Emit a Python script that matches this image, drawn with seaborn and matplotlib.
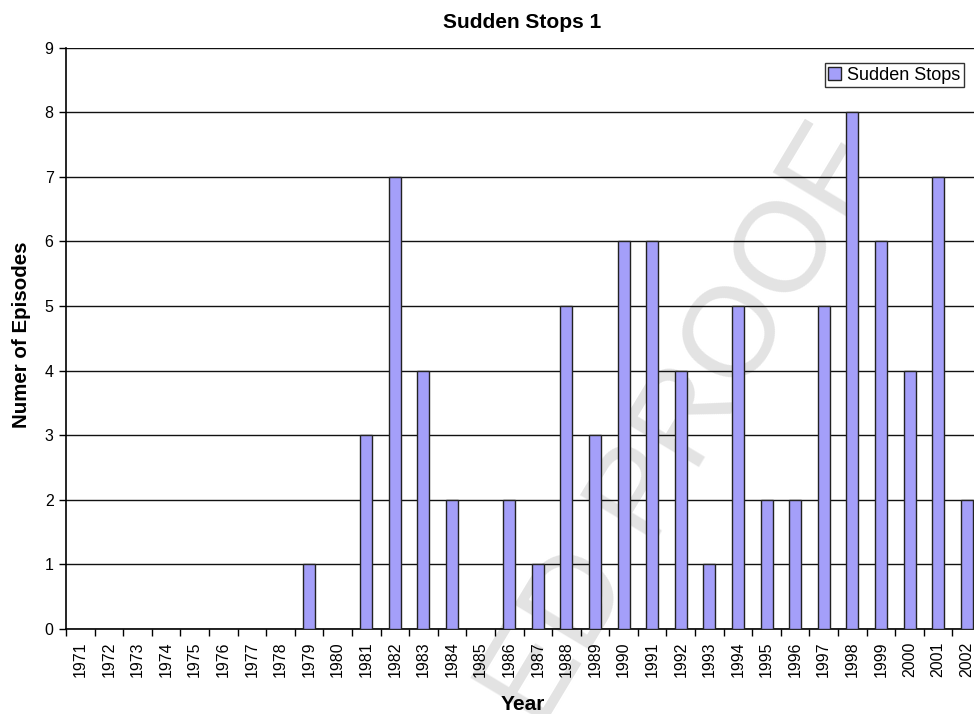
import matplotlib
matplotlib.use("Agg")
import matplotlib.pyplot as plt
import seaborn as sns
import pandas as pd
import numpy as np

years = [str(y) for y in range(1971, 2003)]
episodes = [0, 0, 0, 0, 0, 0, 0, 0, 1, 0, 3, 7, 4, 2, 0, 2, 1, 5, 3, 6, 6, 4, 1, 5,
            2, 2, 5, 8, 6, 4, 7, 2]
series_name = "Sudden Stops"
title = "Sudden Stops 1"
y_label = "Numer of Episodes"
x_label = "Year"
watermark = "ED PROOF"

sns.set_style("white")
plt.rcParams["font.family"] = ["Liberation Sans", "DejaVu Sans"]
plt.rcParams.update({"text.color": "black", "axes.labelcolor": "black",
                     "xtick.color": "black", "ytick.color": "black"})

df = pd.DataFrame({"Year": years, "Episodes": episodes})

W, H = 974, 714
fig = plt.figure(figsize=(W / 100, H / 100), dpi=100)
ax = fig.add_axes([66 / W, 1 - 629 / H, (981 - 66) / W, (629 - 47.7) / H])
ax.patch.set_alpha(0)

# watermark (behind everything in the axes)
ax.text(885 / W, 1 - 160 / H, watermark, transform=fig.transFigure, rotation=59,
        rotation_mode="anchor", ha="right", va="baseline", fontsize=92,
        color="#e3e3e3", zorder=0.2, clip_on=False)

sns.barplot(data=df, x="Year", y="Episodes", color="#a49ff9", saturation=1,
            width=0.42, edgecolor="#222222", linewidth=1.0, label=series_name,
            ax=ax, zorder=3)

ax.set_ylim(0, 9)
ax.set_xlim(-0.5, len(years) - 0.5)
ax.set_yticks(range(0, 10))
ax.yaxis.grid(True, color="#111111", linewidth=1.0)
ax.set_axisbelow(True)
for b in ax.patches:
    b.set_zorder(3)

ax.tick_params(axis="y", which="major", direction="out", length=5, width=1,
               color="black", labelcolor="black", labelsize=11.5, pad=4, left=True)
ax.set_xticks(range(len(years)))
ax.set_xticklabels(years, rotation=90)
ax.tick_params(axis="x", which="major", length=0, labelsize=11.5, pad=9,
               labelcolor="black")
ax.set_xticks(np.arange(-0.5, len(years), 1.0), minor=True)
ax.tick_params(axis="x", which="minor", direction="out", length=5, width=1,
               color="black", bottom=True)

for s in ["top", "right"]:
    ax.spines[s].set_visible(False)
for s in ["left", "bottom"]:
    ax.spines[s].set_color("black")
    ax.spines[s].set_linewidth(1.2)

ax.set_xlabel("")
ax.set_ylabel("")
fig.text(522 / W, 1 - 22 / H, title, ha="center", va="center", fontsize=15,
         fontweight="bold", color="black")
fig.text(22 / W, 1 - 335 / H, y_label, ha="center", va="center", rotation=90,
         fontsize=14.8, fontweight="bold", color="black")
fig.text(523 / W, 1 - 704 / H, x_label, ha="center", va="center", fontsize=15,
         fontweight="bold", color="black")

leg = ax.legend(loc="upper right", bbox_to_anchor=(964 / W, 1 - 63 / H),
                bbox_transform=fig.transFigure, frameon=True, fancybox=False,
                fontsize=13, handlelength=0.7, handleheight=0.7,
                handletextpad=0.35, borderpad=0.2, borderaxespad=0)
leg.get_frame().set_edgecolor("black")
leg.get_frame().set_linewidth(1.0)
for t in leg.get_texts():
    t.set_color("black")

fig.savefig("out.png", dpi=100)
